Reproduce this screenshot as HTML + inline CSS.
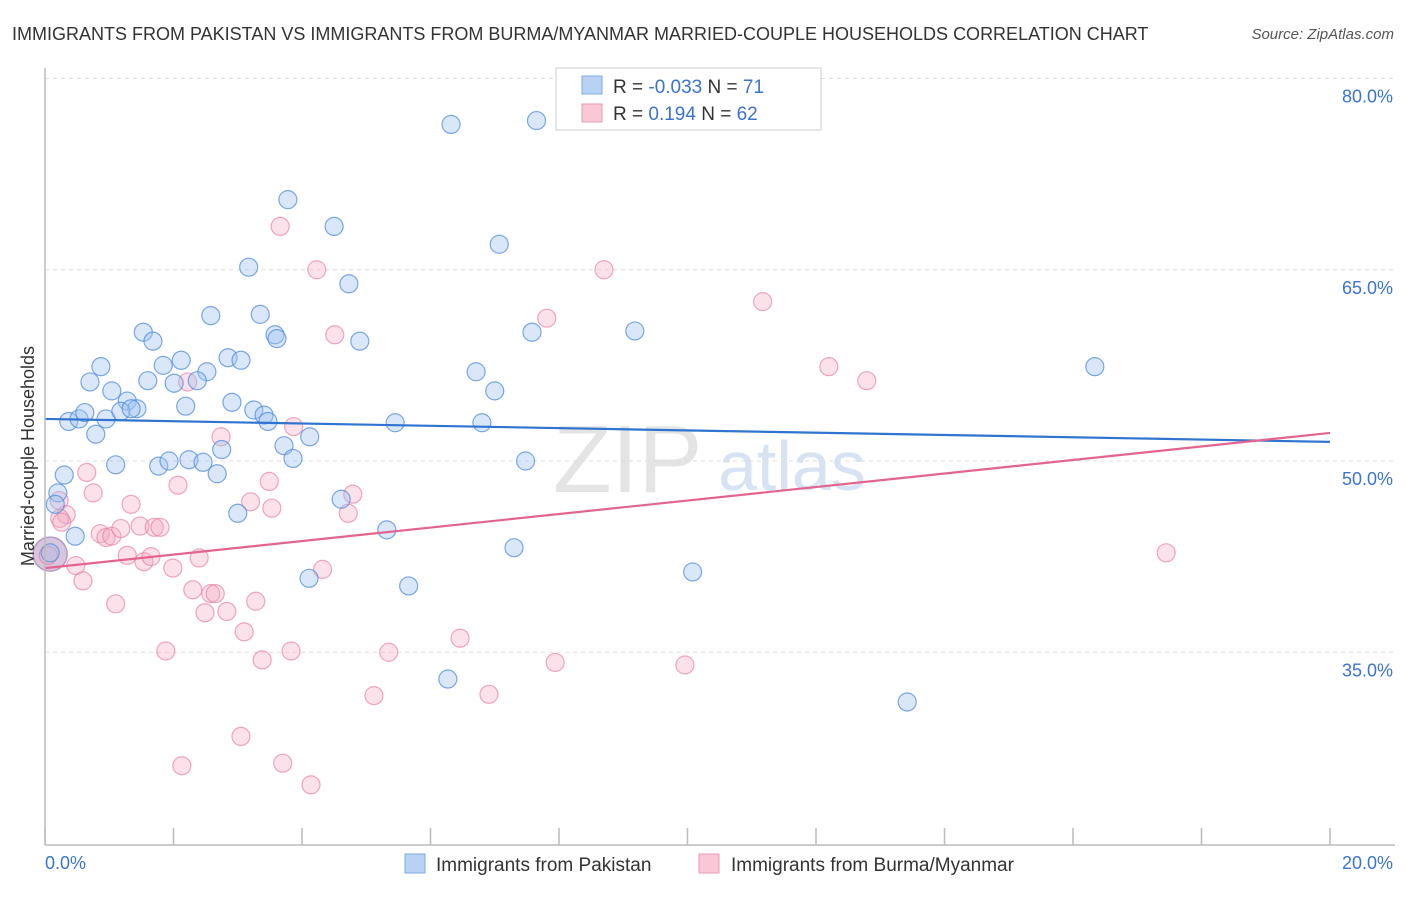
<!DOCTYPE html>
<html><head><meta charset="utf-8"><style>
body{margin:0;background:#fff;font-family:"Liberation Sans",sans-serif}
svg text{font-family:"Liberation Sans",sans-serif}
</style></head><body>
<svg id="chart" width="1406" height="892" xmlns="http://www.w3.org/2000/svg">
<text x="12" y="40" font-size="18" fill="#333">IMMIGRANTS FROM PAKISTAN VS IMMIGRANTS FROM BURMA/MYANMAR MARRIED-COUPLE HOUSEHOLDS CORRELATION CHART</text>
<text x="1394" y="39" font-size="15" fill="#555" font-style="italic" text-anchor="end">Source: ZipAtlas.com</text>
<text x="553" y="492" font-size="96" fill="#e4e4e4" font-family="Liberation Serif">ZIP</text>
<text x="718" y="490" font-size="70" fill="#d7e3f3">atlas</text>
<g id="grid"></g><g id="pts"></g><g id="lines"></g>
<line x1="45" y1="68" x2="45" y2="845" stroke="#bbb" stroke-width="1.5"/>
<line x1="45" y1="845" x2="1395" y2="845" stroke="#bbb" stroke-width="1.5"/>
<text transform="translate(34,456) rotate(-90)" font-size="18" fill="#333" text-anchor="middle">Married-couple Households</text>
<text x="45" y="869" font-size="18" fill="#3b73d1">0.0%</text>
<text x="1393" y="869" font-size="18" fill="#3b73d1" text-anchor="end">20.0%</text>
<g>
<rect x="556" y="68" width="265" height="62" fill="#fff" stroke="#ccc"/>
<rect x="582" y="76" width="20" height="18" fill="#b8d2f3" stroke="#7fa9e4"/>
<rect x="582" y="104" width="20" height="18" fill="#f8c8d6" stroke="#eb9ab3"/>
<text x="613" y="93" font-size="19" fill="#333">R = <tspan fill="#3b73d1">-0.033</tspan>   N =  <tspan fill="#3b73d1">71</tspan></text>
<text x="613" y="120" font-size="19" fill="#333">R =   <tspan fill="#3b73d1">0.194</tspan>   N = <tspan fill="#3b73d1">62</tspan></text>
</g>
<g>
<rect x="405" y="854" width="20" height="19" fill="#b8d2f3" stroke="#7fa9e4"/>
<text x="436" y="871" font-size="19" fill="#333">Immigrants from Pakistan</text>
<rect x="699" y="854" width="20" height="19" fill="#f8c8d6" stroke="#eb9ab3"/>
<text x="731" y="871" font-size="19" fill="#333">Immigrants from Burma/Myanmar</text>
</g>
</svg>
<script>
const yTicks=[80,65,50,35];
const xTicks=[0,2,4,6,8,10,12,14,16,18,20];
const blueX=[6.32,7.65,3.78,4.5,7.07,3.17,4.73,2.58,3.35,1.53,1.68,3.58,3.61,4.90,7.58,9.18,16.34,0.87,1.84,2.12,2.52,2.85,3.05,0.70,1.60,2.01,2.37,6.71,7.0,1.04,1.28,1.43,2.19,2.91,3.25,3.41,3.47,0.37,0.53,0.62,0.95,1.18,1.34,0.79,4.12,5.45,6.80,2.75,3.72,3.86,1.10,1.77,1.93,2.24,2.46,2.68,7.48,0.30,0.20,0.16,4.61,3.0,5.32,0.47,7.30,4.11,5.66,10.08,6.27,13.42,0.08];
const blueY=[76.4,76.7,70.5,68.4,67.0,65.2,63.9,61.4,61.5,60.1,59.4,59.9,59.6,59.4,60.1,60.2,57.4,57.4,57.5,57.9,57.0,58.1,57.9,56.2,56.3,56.1,56.3,57.0,55.5,55.5,54.7,54.1,54.3,54.6,54.0,53.6,53.1,53.1,53.3,53.8,53.3,53.9,54.1,52.1,51.9,53.0,53.0,50.9,51.2,50.2,49.7,49.6,50.0,50.1,49.9,49.0,50.0,48.9,47.5,46.6,47.0,45.9,44.6,44.1,43.2,40.8,40.2,41.3,32.9,31.1,42.8];
const pinkX=[3.66,4.23,8.70,11.17,4.51,7.81,12.20,12.79,2.22,2.74,3.87,0.65,0.75,2.07,3.49,4.79,3.20,0.22,1.34,3.53,0.33,0.23,4.72,0.86,0.95,1.04,1.18,1.48,1.70,1.79,1.28,1.54,1.65,1.99,2.40,0.48,0.59,4.32,2.30,2.58,2.65,2.49,2.83,3.28,1.10,3.10,1.88,3.38,3.83,5.35,6.46,7.94,9.96,5.12,6.91,3.05,2.13,3.70,4.14,17.45,0.05,0.26];
const pinkY=[68.4,65.0,65.0,62.5,59.9,61.2,57.4,56.3,56.2,51.9,52.7,49.1,47.5,48.1,48.4,47.4,46.8,46.9,46.6,46.3,45.8,45.5,45.9,44.3,44.0,44.1,44.7,44.9,44.8,44.8,42.6,42.1,42.5,41.6,42.4,41.8,40.6,41.5,39.9,39.6,39.6,38.1,38.2,39.0,38.8,36.6,35.1,34.4,35.1,35.0,36.1,34.2,34.0,31.6,31.7,28.4,26.1,26.3,24.6,42.8,42.6,45.2];
const bigPts=[[0.08,42.7,17]];
const trend={blue:[53.3,51.5],pink:[41.6,52.2]};
const NS='http://www.w3.org/2000/svg';
const xS=v=>45+v/20*1285, yS=v=>461-(v-50)*12.75;
function mk(t,a,p){const e=document.createElementNS(NS,t);for(const k in a)e.setAttribute(k,a[k]);document.getElementById(p).appendChild(e);return e;}
yTicks.forEach(t=>{
 const l=mk('line',{x1:45,x2:1395,y1:yS(t),y2:yS(t),stroke:'#ddd','stroke-dasharray':'4 4'},'grid');
 
 
 const tx=mk('text',{x:1393,y:yS(t)+24,'font-size':18,fill:'#3b73d1','text-anchor':'end'},'grid');
 tx.textContent=t.toFixed(1)+'%';
 
 
});
xTicks.forEach(t=>{
 const l=mk('line',{x1:xS(t),x2:xS(t),y1:828,y2:845,stroke:'#bbb','stroke-width':1.5},'grid');
 
 
});
bigPts.forEach(p=>{
 const c=mk('circle',{cx:xS(p[0]),cy:yS(p[1]),r:p[2],fill:'rgba(190,160,200,0.6)',stroke:'#b59ac7','stroke-width':1.5},'pts');
 
 
});
pinkX.forEach((x,i)=>{
 const c=mk('circle',{cx:xS(x),cy:yS(pinkY[i]),r:9,fill:'rgba(244,170,195,0.35)',stroke:'rgba(232,130,165,0.7)','stroke-width':1.2},'pts');
 
 
});
blueX.forEach((x,i)=>{
 const c=mk('circle',{cx:xS(x),cy:yS(blueY[i]),r:9,fill:'rgba(160,195,240,0.4)',stroke:'rgba(80,140,220,0.75)','stroke-width':1.2},'pts');
 
 
});
const bl=mk('line',{x1:xS(0),x2:xS(20),y1:yS(trend.blue[0]),y2:yS(trend.blue[1]),stroke:'#2f74d0','stroke-width':2.2},'lines');


const pl=mk('line',{x1:xS(0),x2:xS(20),y1:yS(trend.pink[0]),y2:yS(trend.pink[1]),stroke:'#e2648f','stroke-width':2.2},'lines');


</script>
</body></html>
